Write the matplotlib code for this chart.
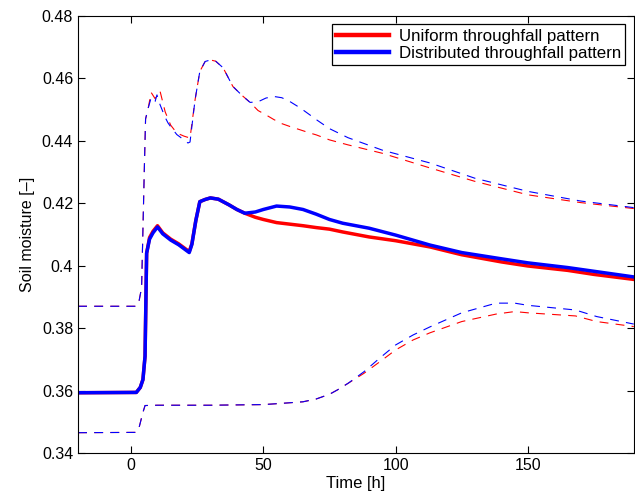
"""Soil moisture response to throughfall: mean and spread for the uniform and
distributed throughfall pattern runs."""

import matplotlib

matplotlib.use("Agg")
import matplotlib.pyplot as plt

plt.rcParams["font.family"] = ["Liberation Sans", "DejaVu Sans"]

# mean soil moisture (solid lines)
t_mean = [-20, 2, 3.5, 4.5, 5.3, 5.9, 7, 8.3, 10, 12, 15, 18, 22, 23, 24.5, 26, 28, 30,
          33, 37, 40, 43, 47, 50, 55, 60, 65, 70, 75, 80, 90, 100, 113, 125, 140, 150,
          165, 175, 190]
uniform_mean = [0.3593, 0.3594, 0.361, 0.3635, 0.371, 0.404, 0.409, 0.411, 0.4128, 0.4105,
                0.4085, 0.407, 0.4045, 0.407, 0.4145, 0.4205, 0.4212, 0.4217,
                0.4213, 0.4195, 0.418, 0.4168, 0.4155, 0.4148, 0.4138, 0.4133, 0.4128,
                0.4122, 0.4117, 0.4108, 0.4092, 0.408, 0.406, 0.4035, 0.4012, 0.3999,
                0.3985, 0.3972, 0.3956]
distributed_mean = [0.3593, 0.3594, 0.361, 0.3635, 0.371, 0.404, 0.4085, 0.4105, 0.4124, 0.4102,
                    0.4082, 0.4067, 0.4042, 0.4068, 0.4145, 0.4205, 0.4212, 0.4217,
                    0.4213, 0.4195, 0.418, 0.4168, 0.4172, 0.418, 0.4191, 0.4188, 0.418,
                    0.4165, 0.4148, 0.4136, 0.412, 0.4098, 0.4066, 0.4042, 0.4022, 0.4009,
                    0.3994, 0.3982, 0.3964]

# upper envelope (dashed)
t_upper = [-20, 2, 3, 4, 5, 5.5, 6.5, 7.6, 9.1, 9.8, 11, 12.9, 14, 15, 17.3, 20, 21.5, 22.3,
           24.2, 26, 28, 30, 32, 34.8, 38.5, 42, 45, 48, 51, 54, 57, 60, 64, 67.6, 70, 75,
           82, 95, 113, 130, 150, 170, 190]
uniform_upper = [0.387, 0.387, 0.3885, 0.393, 0.43, 0.447, 0.4505, 0.4555, 0.4535, 0.4545,
                 0.4558, 0.4493, 0.447, 0.445, 0.4425, 0.4415, 0.4411, 0.4409,
                 0.4531, 0.4622, 0.4654, 0.4659, 0.4655, 0.4634, 0.4574, 0.4545, 0.4523,
                 0.4497, 0.4483, 0.4468, 0.4455, 0.4446, 0.4435, 0.4425, 0.4419, 0.4403,
                 0.4387, 0.436, 0.4313, 0.427, 0.4227, 0.4202, 0.4183]
distributed_upper = [0.387, 0.387, 0.3885, 0.393, 0.43, 0.447, 0.4505, 0.4538, 0.4526, 0.4547,
                     0.4515, 0.4475, 0.4457, 0.4445, 0.442, 0.4403, 0.4393, 0.4396,
                     0.4531, 0.4622, 0.4654, 0.4659, 0.4655, 0.4634, 0.4574, 0.4545, 0.4523,
                     0.4525, 0.4537, 0.4542, 0.4538, 0.4526, 0.4505, 0.4483, 0.4468, 0.4439,
                     0.441, 0.437, 0.4329, 0.428, 0.4238, 0.4207, 0.4186]

# lower envelope (dashed)
t_lower = [-20, 2, 3, 4.5, 5.3, 10, 30, 50, 57, 65, 70, 75, 78, 82, 88, 94, 100, 106.6,
           113, 125, 138, 145, 150, 168, 176, 190]
uniform_lower = [0.3465, 0.3466, 0.348, 0.353, 0.3552, 0.3553, 0.3553, 0.3555, 0.3559,
                 0.3564, 0.3573, 0.3588, 0.3602, 0.3623, 0.3655, 0.3692, 0.373, 0.3762,
                 0.3785, 0.3821, 0.3845, 0.3853, 0.3849, 0.3839, 0.3821, 0.3805]
distributed_lower = [0.3465, 0.3466, 0.348, 0.353, 0.3552, 0.3553, 0.3553, 0.3555, 0.3559,
                     0.3564, 0.3573, 0.3588, 0.3602, 0.3623, 0.366, 0.3704, 0.3746, 0.3778,
                     0.3804, 0.3849, 0.388, 0.388, 0.3873, 0.3858, 0.3837, 0.3813]

labels = ["Uniform throughfall pattern", "Distributed throughfall pattern"]
colors = ["#ff0000", "#0000ff"]

fig = plt.figure(figsize=(6.35, 4.98), dpi=100)
ax = fig.add_axes([0.123, 0.0904, 0.875, 0.8776])

dash = (0, (8, 6.5))
series = [
    (uniform_mean, uniform_upper, uniform_lower),
    (distributed_mean, distributed_upper, distributed_lower),
]
for (mean, upper, lower), color in zip(series, colors):
    ax.plot(t_upper, upper, color=color, lw=0.8, linestyle=dash)
    ax.plot(t_lower, lower, color=color, lw=0.8, linestyle=dash)
for (mean, upper, lower), color, label in zip(series, colors, labels):
    ax.plot(t_mean, mean, color=color, lw=2.5, label=label)

ax.set_xlim(-20, 190)
ax.set_ylim(0.34, 0.48)
ax.set_xticks([0, 50, 100, 150])
ax.set_yticks([0.34, 0.36, 0.38, 0.40, 0.42, 0.44, 0.46, 0.48])
ax.set_yticklabels(["0.34", "0.36", "0.38", "0.4", "0.42", "0.44", "0.46", "0.48"])
ax.tick_params(direction="in", top=True, right=True, labelsize=11.5, length=5, width=0.8)
for spine in ax.spines.values():
    spine.set_linewidth(0.8)
ax.set_xlabel("Time [h]", fontsize=12, labelpad=2)
ax.set_ylabel("Soil moisture [\u2013]", fontsize=11.5, labelpad=5)

leg = ax.legend(loc="upper right", fontsize=12.2, fancybox=False, framealpha=1,
                edgecolor="black", handlelength=3.1, handletextpad=0.6, borderpad=0.25,
                labelspacing=0.15, borderaxespad=0.5)
leg.get_frame().set_linewidth(0.9)
for line in leg.get_lines():
    line.set_linewidth(3.2)

fig.savefig("out.png", dpi=100)
plt.close(fig)
